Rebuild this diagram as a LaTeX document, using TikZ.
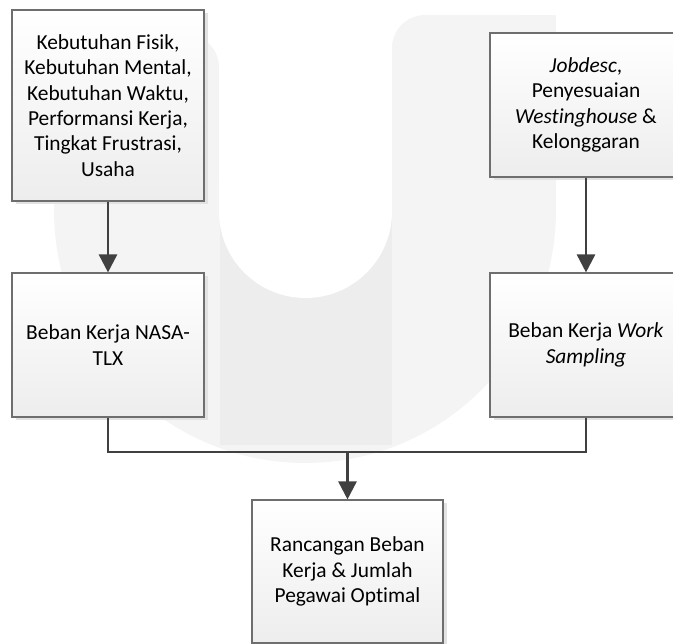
\documentclass[tikz,border=0pt]{standalone}
\usepackage{fontspec}
\setmainfont{Carlito}[Ligatures={NoCommon}, RawFeature={-liga}]
\usetikzlibrary{arrows.meta}
\definecolor{wmA}{RGB}{244,244,244}
\definecolor{wmB}{RGB}{237,237,237}
\definecolor{lineC}{RGB}{64,64,64}
\definecolor{edgeC}{RGB}{110,110,110}
\definecolor{shadowC}{RGB}{226,226,226}
\definecolor{botC}{RGB}{237,237,237}
\begin{document}
\begin{tikzpicture}[x=1pt,y=-1pt,
  box/.style={draw=edgeC, line width=1.1pt, top color=white, bottom color=botC,
    minimum width=192pt, inner sep=0pt, align=center,
    font=\fontsize{21.4}{25.4}\selectfont,
    preaction={fill=shadowC, transform canvas={shift={(3.5pt,-3.5pt)}}}},
  conn/.style={draw=lineC, line width=2.6pt},
  arr/.style={conn, -{Triangle[width=18pt,length=18pt]}}]
\path[use as bounding box] (0,0) rectangle (673,644);
\clip (0,0) rectangle (673,644);
% watermark
\fill[wmA, rounded corners=32pt] (54,35) rectangle (219,212);
\fill[wmA] (54,110) rectangle (219,212);
\fill[wmA] (54,35) rectangle (150,212);
\fill[wmA, rounded corners=33pt] (392,15) rectangle (556,212);
\fill[wmA] (392,110) rectangle (556,212);
\fill[wmA] (480,15) rectangle (556,212);
\begin{scope}
  \clip (0,210) rectangle (673,644);
  \fill[wmA] (305,210) ellipse [x radius=251, y radius=253];
\end{scope}
\begin{scope}
  \clip (305,210) ellipse [x radius=251, y radius=253];
  \fill[wmB] (219.5,215) rectangle (391.5,445);
\end{scope}
\fill[white] (305.5,211.5) circle (86.5);
% boxes
\node[box, minimum height=191pt] (b1) at (108,105.5)
  {Kebutuhan Fisik,\\Kebutuhan Mental,\\Kebutuhan Waktu,\\Performansi Kerja,\\Tingkat Frustrasi,\\Usaha};
\node[box, minimum height=144pt] (b2) at (108,345) {Beban Kerja NASA-\\TLX};
\node[box, minimum height=144pt] (b3) at (586,105)
  {\textit{Jobdesc},\\Penyesuaian\\\textit{Westinghouse} \&\\Kelonggaran};
\node[box, minimum height=144pt] (b4) at (586,345) {Beban Kerja \textit{Work}\\\textit{Sampling}};
\node[box, minimum width=191pt, minimum height=143pt] (b5) at (347.5,571.5)
  {Rancangan Beban\\Kerja \& Jumlah\\Pegawai Optimal};
% connectors
\coordinate (j) at (347.5,452);
\draw[arr] (b1) -- (b2);
\draw[arr] (b3) -- (b4);
\draw[conn] (b2.south) |- (j) -| (b4.south);
\draw[arr] (j) -- (b5.north);
\end{tikzpicture}
\end{document}
